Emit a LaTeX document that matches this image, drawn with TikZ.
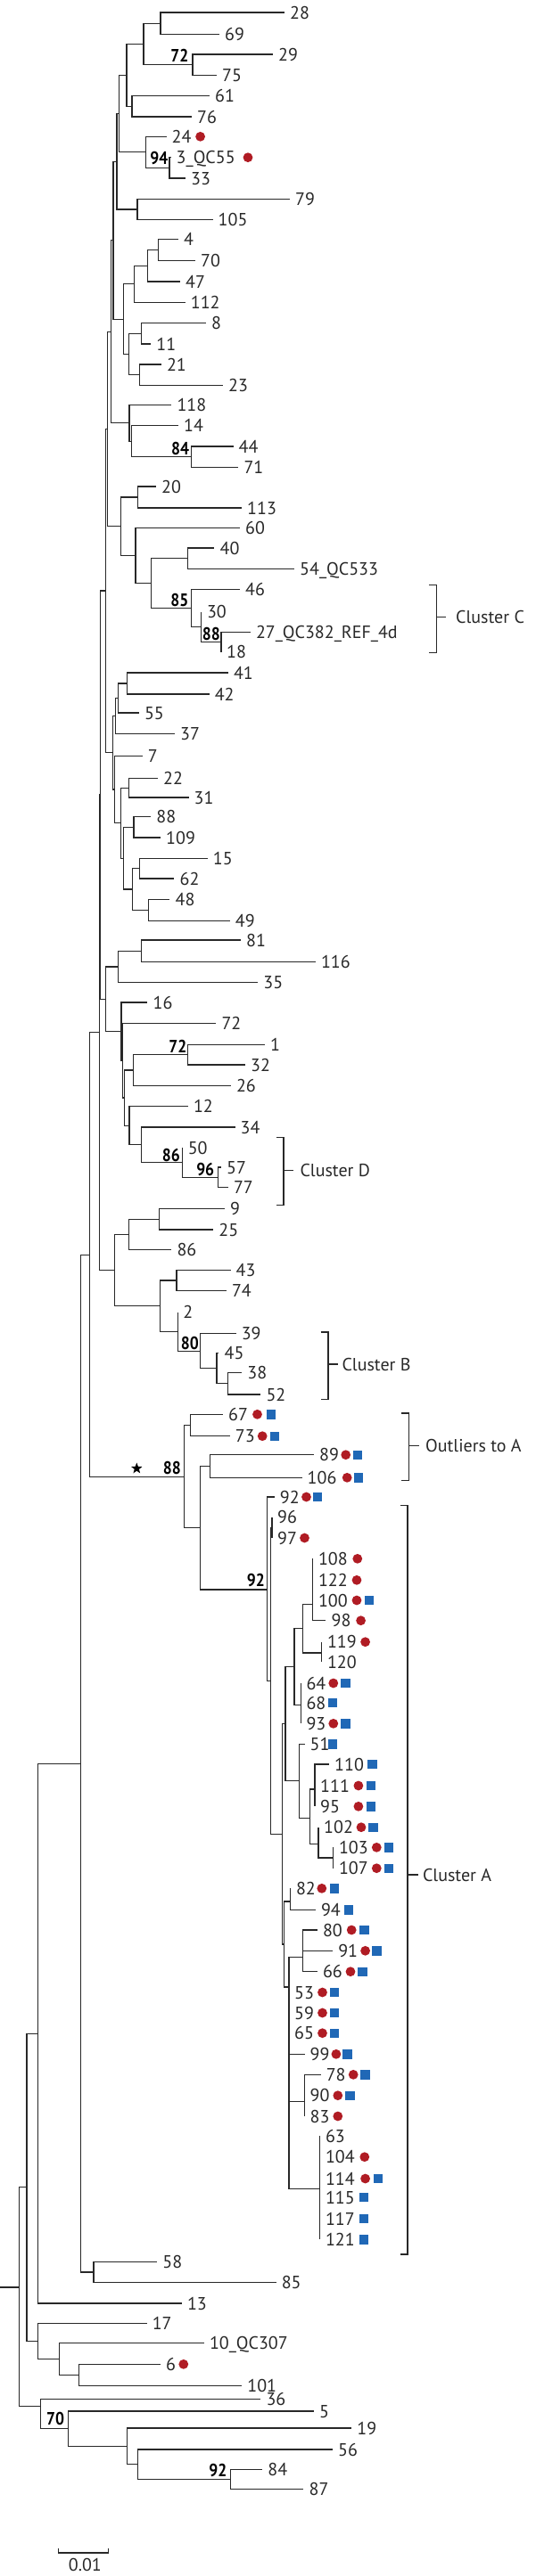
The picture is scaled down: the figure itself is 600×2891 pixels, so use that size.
\documentclass[tikz,border=0pt]{standalone}
\usepackage{fontspec}
\setmainfont{PT Sans}
\usetikzlibrary{shapes.geometric}
\definecolor{dotred}{RGB}{176,28,36}
\definecolor{sqblue}{RGB}{32,104,182}
\definecolor{ink}{RGB}{40,40,40}
\newcommand\labfont{\fontsize{20}{24}\selectfont}
\newcommand\bsfont{\fontsize{20}{24}\selectfont\bfseries}
\newcommand\tipA[4]{\coordinate (#1) at (#2,-#3); \node[lab] (l#1) at (#1) {#4};}
\newcommand\tipD[5]{\tipA{#1}{#2}{#3}{#4}\node[dotm] (d#1) at (#5,-#3) {};}
\newcommand\tipS[5]{\tipA{#1}{#2}{#3}{#4}\node[sqm] (s#1) at (#5,-#3) {};}
\newcommand\tipDS[6]{\tipA{#1}{#2}{#3}{#4}\node[dotm] (d#1) at (#5,-#3) {};\node[sqm] (s#1) at (#6,-#3) {};}
\newcommand\inn[3]{\coordinate (#1) at (#2,-#3);}
\newcommand\bsl[4]{\node[bs] (#1) at (#2,-#3) {#4};}
\begin{document}
\begin{tikzpicture}[x=1pt,y=1pt,
  br/.style={draw=ink, line width=1.1pt, line join=miter},
  lab/.style={anchor=west, inner sep=0pt, xshift=6pt, text depth=0pt, font=\labfont, text=ink},
  bs/.style={anchor=east, inner sep=0pt, text depth=0pt, font=\bsfont, text=black, xscale=0.88},
  clab/.style={anchor=west, inner sep=0pt, text depth=0pt, font=\labfont, text=ink},
  dotm/.style={circle, fill=dotred, inner sep=0pt, minimum size=10.8pt},
  sqm/.style={rectangle, fill=sqblue, inner sep=0pt, minimum size=10.4pt}]
\useasboundingbox (0,0) rectangle (600,-2891);
% ---------- tips ----------
\tipA{t28}{319}{14}{28}
\tipA{t69}{246}{38.3}{69}
\tipA{t29}{306}{61}{29}
\tipA{t75}{243}{84.3}{75}
\tipA{t61}{235}{107.7}{61}
\tipA{t76}{215}{131}{76}
\tipD{t24}{186.5}{153.3}{24}{224.6}
\tipD{t3}{191.5}{176.7}{3\_QC55}{278}
\tipA{t33}{208}{200}{33}
\tipA{t79}{325}{223.3}{79}
\tipA{t105}{238.5}{246.7}{105}
\tipA{t4}{200}{268.3}{4}
\tipA{t70}{219}{292.7}{70}
\tipA{t47}{202}{316}{47}
\tipA{t112}{207.7}{339.3}{112}
\tipA{t8}{230.8}{362.7}{8}
\tipA{t11}{169.2}{386}{11}
\tipA{t21}{180.8}{409}{21}
\tipA{t23}{250}{432.3}{23}
\tipA{t118}{192.3}{454.3}{118}
\tipA{t14}{200}{477.7}{14}
\tipA{t44}{261.5}{501}{44}
\tipA{t71}{267.3}{524.3}{71}
\tipA{t20}{175}{546}{20}
\tipA{t113}{271}{570}{113}
\tipA{t60}{269}{592.7}{60}
\tipA{t40}{240.4}{615}{40}
\tipA{t54}{330}{638.3}{54\_QC533}
\tipA{t46}{269}{661.7}{46}
\tipA{t30}{225.8}{686.7}{30}
\tipA{t27}{280.8}{709.3}{27\_QC382\_REF\_4d}
\tipA{t18}{248}{731.7}{18}
\tipA{t41}{255.8}{755}{41}
\tipA{t42}{234.6}{779}{42}
\tipA{t55}{155.8}{800}{55}
\tipA{t37}{196}{823.3}{37}
\tipA{t7}{159.6}{848.3}{7}
\tipA{t22}{177}{873.3}{22}
\tipA{t31}{211.5}{895}{31}
\tipA{t88}{169.2}{916.7}{88}
\tipA{t109}{180}{940}{109}
\tipA{t15}{232.7}{963.3}{15}
\tipA{t62}{195.4}{986}{62}
\tipA{t48}{190.4}{1009.3}{48}
\tipA{t49}{257.7}{1033.3}{49}
\tipA{t81}{270}{1055}{81}
\tipA{t116}{353.8}{1079.3}{116}
\tipA{t35}{289.2}{1102.7}{35}
\tipA{t16}{165.4}{1125}{16}
\tipA{t72}{242.3}{1148.3}{72}
\tipA{t1}{297}{1172.7}{1}
\tipA{t32}{275}{1195}{32}
\tipA{t26}{258.8}{1218.3}{26}
\tipA{t12}{210.8}{1241.7}{12}
\tipA{t34}{263.5}{1265}{34}
\tipA{t50}{204.6}{1288.3}{50}
\tipA{t57}{248}{1310}{57}
\tipA{t77}{255.8}{1332.7}{77}
\tipA{t9}{252}{1356.7}{9}
\tipA{t25}{239.2}{1380}{25}
\tipA{t86}{192.3}{1402.7}{86}
\tipA{t43}{258.5}{1425.7}{43}
\tipA{t74}{253.8}{1448.3}{74}
\tipA{t2}{199.2}{1472.7}{2}
\tipA{t39}{264.6}{1496.7}{39}
\tipA{t45}{245.4}{1518.3}{45}
\tipA{t38}{271.2}{1540.7}{38}
\tipA{t52}{292.3}{1565}{52}
\tipDS{t67}{250}{1587.3}{67}{288.5}{303.8}
\tipDS{t73}{257.7}{1611.7}{73}{294.2}{307.7}
\tipDS{t89}{352}{1632.7}{89}{387.7}{400.8}
\tipDS{t106}{338.5}{1658.3}{106}{389.2}{402}
\tipDS{t92}{307.7}{1680}{92}{343.5}{355.8}
\tipA{t96}{305}{1702.7}{96}
\tipD{t97}{305}{1726}{97}{341.5}
\tipD{t108}{350.8}{1749.3}{108}{400.8}
\tipD{t122}{350.8}{1773.3}{122}{400}
\tipDS{t100}{350.8}{1796}{100}{400}{414.2}
\tipD{t98}{365.4}{1818.7}{98}{404.6}
\tipD{t119}{360.8}{1842.7}{119}{409.6}
\tipA{t120}{360.8}{1865}{120}
\tipDS{t64}{337.3}{1889}{64}{373.8}{387.3}
\tipS{t68}{337.3}{1911}{68}{373.1}
\tipDS{t93}{337.3}{1934.3}{93}{373.8}{387.3}
\tipS{t51}{341.5}{1957.3}{51}{373.1}
\tipS{t110}{369}{1980}{110}{417.3}
\tipDS{t111}{353}{2004}{111}{401.9}{416.2}
\tipDS{t95}{353}{2027.3}{95}{401.9}{416.2}
\tipDS{t102}{357}{2050.7}{102}{405}{418.5}
\tipDS{t103}{373.8}{2073.3}{103}{422.3}{435.8}
\tipDS{t107}{373.8}{2096.7}{107}{422.3}{435.8}
\tipDS{t82}{325.8}{2119.3}{82}{360.8}{375}
\tipS{t94}{353.8}{2143.3}{94}{391.2}
\tipDS{t80}{355.8}{2166}{80}{394.2}{408.5}
\tipDS{t91}{373.1}{2189.3}{91}{409.6}{422.3}
\tipDS{t66}{355.8}{2212.7}{66}{393}{406.5}
\tipDS{t53}{324}{2236}{53}{361.5}{375}
\tipDS{t59}{324}{2259}{59}{361.5}{375}
\tipDS{t65}{324}{2281.7}{65}{361.5}{375}
\tipDS{t99}{341.5}{2305.3}{99}{376.9}{389.6}
\tipDS{t78}{359.6}{2328.3}{78}{396.2}{409.6}
\tipDS{t90}{341.5}{2351.7}{90}{378.8}{392.3}
\tipD{t83}{341.5}{2375}{83}{378.8}
\tipA{t63}{358.8}{2397.3}{63}
\tipD{t104}{358.8}{2420.7}{104}{408.8}
\tipDS{t114}{358.8}{2445}{114}{409.6}{423.8}
\tipS{t115}{358.8}{2466}{115}{407.7}
\tipS{t117}{358.8}{2490}{117}{407.7}
\tipS{t121}{358.8}{2513.3}{121}{407.7}
\tipA{t58}{176.2}{2538.3}{58}
\tipA{t85}{309.6}{2561.7}{85}
\tipA{t13}{203.8}{2585}{13}
\tipA{t17}{164.6}{2607.3}{17}
\tipA{t10}{228.8}{2629.3}{10\_QC307}
\tipD{t6}{180}{2653.3}{6}{205.8}
\tipA{t101}{271.2}{2677.3}{101}
\tipA{t36}{292.3}{2692.7}{36}
\tipA{t5}{352}{2706}{5}
\tipA{t19}{394.2}{2725}{19}
\tipA{t56}{373}{2749}{56}
\tipA{t84}{294.2}{2771.7}{84}
\tipA{t87}{340.4}{2793.3}{87}
% ---------- internal nodes ----------
\inn{A1}{180}{26.2}\inn{A2}{216}{72.7}\inn{A3}{161}{49.4}\inn{A4}{148}{119.3}
\inn{A5}{142}{84.3}\inn{A6}{190}{188.3}\inn{A7}{163.5}{170.8}\inn{A8}{133.5}{127.6}
\inn{A9}{154}{235}\inn{A10}{131}{181.3}
\inn{B1}{177.7}{280.5}\inn{B2}{165.4}{298.3}\inn{B3}{150.8}{318.8}\inn{B4}{158.5}{374.3}
\inn{B5}{156.5}{420.7}\inn{B6}{144.2}{397.5}\inn{B7}{138.5}{358.2}\inn{A11}{127}{269.8}
\inn{C1}{214.2}{512.7}\inn{C2}{147.3}{495.2}\inn{C3}{145}{474.7}\inn{A12}{124.3}{372.2}
\inn{D1}{154.6}{558}\inn{D2}{210.4}{626.7}\inn{D5}{248}{720.3}\inn{D4}{225.8}{703.3}
\inn{D3}{214.2}{682.3}\inn{D6}{169.2}{654.5}\inn{D7}{152}{623.6}\inn{D8}{135.4}{590.8}
\inn{A13}{120.5}{481.5}
\inn{F1}{142.3}{767}\inn{F2}{132.7}{783.5}\inn{F3}{129.2}{803.4}
\inn{G1}{144.6}{884.2}\inn{G3}{150}{928.3}\inn{G4}{156.2}{974.7}\inn{G5}{166.5}{1021.3}
\inn{G6}{148.5}{998}\inn{G7}{138.5}{963.2}\inn{G8}{135.4}{923.7}\inn{G9}{128.5}{886}
\inn{G10}{126.2}{844.7}\inn{A14}{118.3}{663}
\inn{H1}{158.8}{1067.2}\inn{H2}{132.3}{1085}\inn{I1}{210.8}{1183.8}\inn{I2}{149.2}{1201}
\inn{I3}{244.2}{1321.3}\inn{I4}{204.6}{1304.8}\inn{I5}{158.5}{1284.9}\inn{I6}{145}{1263.3}
\inn{I7}{139.2}{1232}\inn{I8}{137.3}{1190}\inn{I9}{136}{1157.5}\inn{H3}{118.5}{1121.3}
\inn{A15}{112.3}{892}
\inn{J1}{178.8}{1368.3}\inn{J2}{144.2}{1385.5}\inn{J3}{198}{1437}\inn{K1}{255.8}{1552.8}
\inn{K2}{243}{1535.6}\inn{K3}{224.2}{1516.2}\inn{K4}{199.2}{1494.4}\inn{J4}{179.6}{1465.7}
\inn{J5}{128.8}{1425.6}\inn{A16}{111.3}{1158.8}
\inn{P1}{213.5}{1599.5}\inn{P2}{235.4}{1645.5}\inn{Q1}{305}{1714.3}
\inn{T1}{350.8}{1800.7}\inn{T2}{360.8}{1855}\inn{T3}{339.2}{1827.8}\inn{T4}{337.3}{1913.3}
\inn{T5}{330}{1870.6}\inn{U3}{353}{2008}\inn{U1}{373.8}{2085}\inn{U2}{357}{2069.3}
\inn{U4}{347.3}{2040.5}\inn{U5}{335.8}{1998.9}\inn{V1}{320}{1934.8}
\inn{W1}{325.8}{2134}\inn{X1}{339.2}{2196.7}\inn{Y1}{341.5}{2358.3}\inn{Z1}{358.8}{2456.7}
\inn{X0}{324}{2230}\inn{W}{318.5}{2182}\inn{S}{316.2}{2058.3}\inn{R}{303.8}{1886.3}
\inn{Q}{299.2}{1784}\inn{P3}{224.2}{1714.8}\inn{P4}{206.5}{1657.2}
\inn{L1}{100.8}{1408.6}\inn{M1}{105}{2550}\inn{L2}{90.4}{1979.3}\inn{L3}{42.3}{2282.2}
\inn{N1}{88.5}{2665.3}\inn{N2}{66.5}{2647.3}\inn{N3}{42.3}{2627.3}\inn{L4}{30}{2454.8}
\inn{O1}{258.5}{2782.5}\inn{O2}{154.6}{2765.8}\inn{O3}{142.3}{2745.4}\inn{O4}{76.9}{2725.7}
\inn{O5}{45.4}{2700.7}\inn{root}{21.2}{2567}\inn{rootstub}{0}{2567}
% ---------- branches ----------
\foreach \p/\c in {A1/t28,A1/t69,A2/t29,A2/t75,A3/A1,A3/A2,A4/t61,A4/t76,A5/A3,A5/A4,
  A6/t3,A6/t33,A7/t24,A7/A6,A8/A5,A8/A7,A9/t79,A9/t105,A10/A8,A10/A9,
  B1/t4,B1/t70,B2/B1,B2/t47,B3/B2,B3/t112,B4/t8,B4/t11,B5/t21,B5/t23,B6/B4,B6/B5,B7/B3,B7/B6,
  A11/A10,A11/B7,C1/t44,C1/t71,C2/t14,C2/C1,C3/t118,C3/C2,A12/A11,A12/C3,
  D1/t20,D1/t113,D2/t40,D2/t54,D5/t27,D5/t18,D4/t30,D4/D5,D3/t46,D3/D4,D6/D2,D6/D3,
  D7/t60,D7/D6,D8/D1,D8/D7,A13/A12,A13/D8,
  F1/t41,F1/t42,F2/F1,F2/t55,F3/F2,F3/t37,G1/t22,G1/t31,G3/t88,G3/t109,G4/t15,G4/t62,
  G5/t48,G5/t49,G6/G4,G6/G5,G7/G3,G7/G6,G8/G1,G8/G7,G9/t7,G9/G8,G10/F3,G10/G9,A14/A13,A14/G10,
  H1/t81,H1/t116,H2/H1,H2/t35,I1/t1,I1/t32,I2/I1,I2/t26,I3/t57,I3/t77,I4/t50,I4/I3,
  I5/t34,I5/I4,I6/t12,I6/I5,I7/I2,I7/I6,I8/t72,I8/I7,I9/t16,I9/I8,H3/H2,H3/I9,A15/A14,A15/H3,
  J1/t9,J1/t25,J2/J1,J2/t86,J3/t43,J3/t74,K1/t38,K1/t52,K2/t45,K2/K1,K3/t39,K3/K2,
  K4/t2,K4/K3,J4/J3,J4/K4,J5/J2,J5/J4,A16/A15,A16/J5,
  P1/t67,P1/t73,P2/t89,P2/t106,Q1/t96,Q1/t97,T1/t108,T1/t122,T1/t100,T1/t98,T2/t119,T2/t120,
  T3/T1,T3/T2,T4/t64,T4/t68,T4/t93,T5/T3,T5/T4,U3/t110,U3/t111,U3/t95,U1/t103,U1/t107,
  U2/t102,U2/U1,U4/U3,U4/U2,U5/t51,U5/U4,V1/T5,V1/U5,W1/t82,W1/t94,X1/t80,X1/t91,X1/t66,
  Y1/t78,Y1/t90,Y1/t83,Z1/t63,Z1/t104,Z1/t114,Z1/t115,Z1/t117,Z1/t121,
  X0/X1,X0/t53,X0/t59,X0/t65,X0/t99,X0/Y1,X0/Z1,W/W1,W/X0,S/V1,S/W,R/Q1,R/S,Q/t92,Q/R,
  P3/P2,P3/Q,P4/P1,P4/P3,L1/A16,L1/P4,
  M1/t58,M1/t85,L2/L1,L2/M1,L3/L2,L3/t13,N1/t6,N1/t101,N2/t10,N2/N1,N3/t17,N3/N2,
  L4/L3,L4/N3,O1/t84,O1/t87,O2/t56,O2/O1,O3/t19,O3/O2,O4/t5,O4/O3,O5/t36,O5/O4,
  root/L4,root/O5}
  {\draw[br] (\p) |- (\c);}
\draw[br] (rootstub) -- (root);
% ---------- bootstrap values ----------
\bsl{b72a}{211.5}{62.5}{72}
\bsl{b94}{188.5}{177.5}{94}
\bsl{b84}{212.3}{503}{84}
\bsl{b85}{211.5}{673.8}{85}
\bsl{b88a}{247}{711.3}{88}
\bsl{b72b}{209.6}{1174}{72}
\bsl{b86}{202}{1296}{86}
\bsl{b96}{240.4}{1312}{96}
\bsl{b80}{223}{1507}{80}
\bsl{b88b}{203}{1647.5}{88}
\bsl{b92a}{297}{1773}{92}
\bsl{b70}{72.3}{2714.7}{70}
\bsl{b92b}{254.6}{2772}{92}
\node[star, star points=5, star point ratio=2.4, fill=black, inner sep=0pt, minimum size=13pt] (star) at (153.3,-1648) {};
% ---------- cluster brackets ----------
\coordinate (cCt) at (489.2,-656.7); \coordinate (cCb) at (489.2,-732.3); \coordinate (cCm) at (489.2,-692.7);
\draw[br] ([xshift=-8.4pt]cCt) -- (cCt) -- (cCb) -- ([xshift=-8.4pt]cCb);
\draw[br] (cCm) -- ++(10.8,0) coordinate (cCe);
\node[clab] (cC) at ([xshift=11pt]cCe) {Cluster C};
\coordinate (cDt) at (318,-1276.7); \coordinate (cDb) at (318,-1352.3); \coordinate (cDm) at (318,-1313.3);
\draw[br] ([xshift=-8.4pt]cDt) -- (cDt) -- (cDb) -- ([xshift=-8.4pt]cDb);
\draw[br] (cDm) -- ++(10.8,0) coordinate (cDe);
\node[clab] (cD) at ([xshift=7.5pt]cDe) {Cluster D};
\coordinate (cBt) at (368,-1495); \coordinate (cBb) at (368,-1570.7); \coordinate (cBm) at (368,-1531);
\draw[br] ([xshift=-8.4pt]cBt) -- (cBt) -- (cBb) -- ([xshift=-8.4pt]cBb);
\draw[br] (cBm) -- ++(10.8,0) coordinate (cBe);
\node[clab] (cB) at ([xshift=4.5pt]cBe) {Cluster B};
\coordinate (cOt) at (458.5,-1586); \coordinate (cOb) at (458.5,-1661.7); \coordinate (cOm) at (458.5,-1622.7);
\draw[br] ([xshift=-8.4pt]cOt) -- (cOt) -- (cOb) -- ([xshift=-8.4pt]cOb);
\draw[br] (cOm) -- ++(11.5,0) coordinate (cOe);
\node[clab] (cO) at ([xshift=7pt]cOe) {Outliers to A};
\coordinate (cAt) at (457,-1689.3); \coordinate (cAb) at (457,-2530); \coordinate (cAm) at (457,-2104);
\draw[br] ([xshift=-8.4pt]cAt) -- (cAt) -- (cAb) -- ([xshift=-8.4pt]cAb);
\draw[br] (cAm) -- ++(11.5,0) coordinate (cAe);
\node[clab] (cA) at ([xshift=5.3pt]cAe) {Cluster A};
% ---------- scale bar ----------
\coordinate (sb1) at (65.4,-2865); \coordinate (sb2) at (121.5,-2865);
\draw[br] ([yshift=5pt]sb1) -- (sb1) -- (sb2) -- ([yshift=5pt]sb2);
\node[inner sep=0pt, font=\labfont, text=ink] (sbl) at (95.4,-2878) {0.01};
\end{tikzpicture}
\end{document}
